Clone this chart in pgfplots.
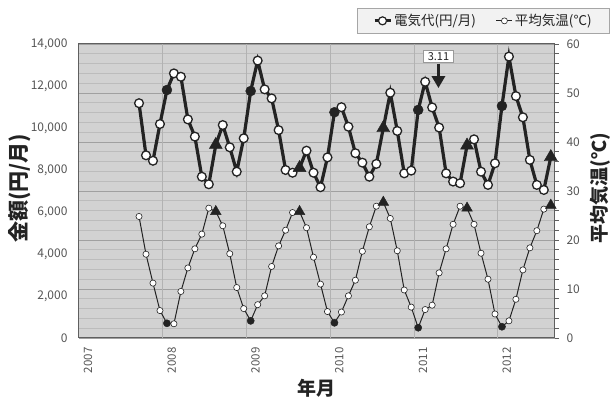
\documentclass[border=0pt]{standalone}
\usepackage{pgfplots}
\pgfplotsset{compat=1.18}
\usepackage{pgfplotstable}
\usetikzlibrary{arrows.meta}
\usepackage{fontspec}
\setmainfont{Noto Sans CJK JP}

\definecolor{plotbg}{RGB}{210,210,210}
\definecolor{gridmajor}{RGB}{160,160,160}
\definecolor{gridminor}{RGB}{188,188,188}
\definecolor{vgrid}{RGB}{178,178,178}
\definecolor{framegray}{RGB}{95,95,95}
\definecolor{ticktext}{RGB}{85,85,85}
\definecolor{legendbg}{RGB}{242,242,242}
\definecolor{ink}{RGB}{35,35,35}

% m: months since Jan 2007, e: electricity bill (yen/month), t: mean temperature (deg C)
% c: marker class (n = other months, j = January, a = August)
\pgfplotstableread{
m  e     t    c
8  11180 24.8 n
9  8700  17.1 n
10 8440  11.2 n
11 10190 5.6  n
12 11810 3.0  j
13 12600 2.9  n
14 12440 9.5  n
15 10410 14.3 n
16 9590  18.2 n
17 7680  21.2 n
18 7320  26.5 n
19 9200  25.8 a
20 10140 22.9 n
21 9080  17.2 n
22 7920  10.3 n
23 9510  6.0  n
24 11760 3.5  j
25 13210 6.8  n
26 11840 8.6  n
27 11410 14.6 n
28 9900  18.8 n
29 8000  22.0 n
30 7870  25.6 n
31 8100  25.8 a
32 8920  22.5 n
33 7870  16.5 n
34 7180  11.0 n
35 8600  5.4  n
36 10750 3.1  j
37 10990 5.3  n
38 10060 8.6  n
39 8800  11.8 n
40 8350  17.7 n
41 7680  22.7 n
42 8290  26.9 n
43 10000 27.7 a
44 11680 24.4 n
45 9860  17.8 n
46 7840  9.8  n
47 7970  6.3  n
48 10860 2.1  j
49 12200 5.8  n
50 10980 6.7  n
51 10020 13.3 n
52 7840  18.2 n
53 7450  23.2 n
54 7370  26.9 n
55 9170  26.5 a
56 9460  23.2 n
57 7920  17.3 n
58 7290  12.0 n
59 8320  4.9  n
60 11050 2.3  j
61 13400 3.5  n
62 11520 7.9  n
63 10510 13.9 n
64 8480  18.4 n
65 7290  21.9 n
66 7050  26.3 n
67 8620  27.1 a
}\monthly

\pgfplotsset{
  every tick label/.append style={font=\fontsize{12}{14}\selectfont, text=ticktext},
  /pgf/number format/assume math mode=true,
  common/.style={
    at={(0,0)}, anchor=south west,
    scale only axis, width=476pt, height=294pt,
    xmin=-0.6, xmax=67.6,
  },
}

\begin{document}
\begin{tikzpicture}
\path[use as bounding box] (-79pt,-63pt) rectangle (532pt,338pt);

% temperature axis (right): background, grid and frame
\begin{axis}[
  common,
  ymin=0, ymax=60,
  axis background/.style={fill=plotbg},
  axis line style={framegray, line width=1pt},
  xtick=\empty,
  extra x ticks={11.4,23.4,35.4,47.4,59.4},
  extra x tick labels={},
  extra x tick style={grid=major, major grid style={vgrid, line width=0.8pt}, major tick length=0pt},
  ytick={0,10,...,60},
  minor y tick num=4,
  ytick pos=right, yticklabel pos=right,
  tick align=outside,
  major tick length=4pt, minor tick length=4pt,
  ytick style={framegray, line width=0.6pt},
  yticklabel shift=4pt,
  ymajorgrids, yminorgrids,
  major grid style={gridmajor, line width=0.8pt},
  minor grid style={gridminor, line width=0.6pt},
  ylabel={平均気温(℃)},
  ylabel style={at={(axis description cs:1.0945,0.51)}, anchor=center,
    font=\bfseries\fontsize{19}{22}\selectfont, text=ink},
]
\addplot[
  ink, line width=1pt,
  scatter, scatter src=explicit symbolic,
  scatter/classes={
    n={mark=*, mark size=3.1pt, fill=white, draw=ink, line width=0.6pt},
    j={mark=*, mark size=3.6pt, fill=ink, draw=ink, line width=0.4pt},
    a={mark=triangle*, mark size=6.2pt, fill=ink, draw=ink, line width=0.4pt}
  },
] table[x=m, y=t, meta=c] {\monthly};
\end{axis}

% electricity axis (left)
\begin{axis}[
  common,
  ymin=0, ymax=14000,
  axis line style={draw=none},
  major tick length=0pt,
  tick style={draw=none},
  ytick={0,2000,...,14000},
  scaled y ticks=false,
  ytick pos=left,
  yticklabel style={/pgf/number format/1000 sep={,}},
  yticklabel shift=8pt,
  xtick={0.7,12.7,24.7,36.7,48.7,60.7},
  xticklabels={2007,2008,2009,2010,2011,2012},
  xtick pos=bottom,
  xticklabel style={rotate=90, anchor=east, font=\fontsize{11.5}{13}\selectfont},
  xticklabel shift=6pt,
  ylabel={金額(円/月)},
  ylabel style={at={(axis description cs:-0.124,0.51)}, anchor=center,
    font=\bfseries\fontsize{21}{24}\selectfont, text=ink},
  xlabel={年月},
  xlabel style={at={(axis description cs:0.498,-0.17)}, anchor=center,
    font=\bfseries\fontsize{19}{22}\selectfont, text=ink},
  legend columns=2,
  legend cell align=left,
  legend image code/.code={%
    \draw[mark repeat=2, mark phase=2, #1] plot coordinates {(0pt,0pt) (8pt,0pt) (16pt,0pt)};},
  legend style={at={(1.1155,1.1224)}, anchor=north east,
    fill=legendbg, draw=gray!70, line width=0.8pt,
    font=\fontsize{13.5}{15}\selectfont, text=ink,
    inner xsep=16pt, inner ysep=4pt,
    /tikz/every even column/.append style={column sep=18pt}},
]
\addlegendimage{ink, line width=3pt, mark=*, mark size=4pt, mark options={fill=white, draw=ink, line width=1.2pt}}
\addlegendentry{電気代(円/月)}
\addlegendimage{ink, line width=1pt, mark=*, mark size=3pt, mark options={fill=white, draw=ink, line width=0.6pt}}
\addlegendentry{平均気温(℃)}

\addplot[
  ink, line width=3.2pt, forget plot,
  scatter, scatter src=explicit symbolic,
  scatter/classes={
    n={mark=*, mark size=4.4pt, fill=white, draw=ink, line width=1.3pt},
    j={mark=*, mark size=5pt, fill=ink, draw=ink, line width=0.4pt},
    a={mark=triangle*, mark size=7.5pt, fill=ink, draw=ink, line width=0.4pt}
  },
] table[x=m, y=e, meta=c] {\monthly};

% annotation: March 2011
\draw[-{Triangle[width=13pt,length=12pt]}, line width=3pt, ink]
  (axis cs:50.9,13060) -- (axis cs:50.9,11900);
\node[draw=gray!80, fill=white, line width=0.8pt, inner xsep=4pt, inner ysep=2pt,
  font=\fontsize{11}{12}\selectfont, text=ink] at (axis cs:50.9,13405) {3.11};
\end{axis}
\end{tikzpicture}
\end{document}
